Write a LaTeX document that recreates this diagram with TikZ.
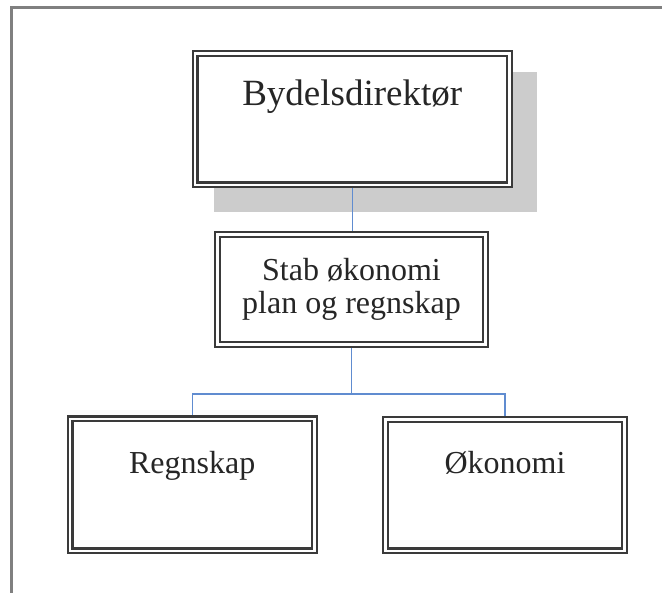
\documentclass[tikz,border=0pt]{standalone}
\usepackage{fontspec}
\setmainfont{Liberation Serif}
\usetikzlibrary{positioning,backgrounds}
\definecolor{framegray}{RGB}{128,128,128}
\definecolor{boxline}{RGB}{58,58,58}
\definecolor{shadowgray}{RGB}{204,204,204}
\definecolor{linkblue}{RGB}{96,140,208}

\begin{document}
\begin{tikzpicture}[x=1pt, y=-1pt,
  orgbox/.style={draw=boxline, line width=2.2pt, double=white, double distance=2.6pt,
    fill=white, inner sep=0pt},
  boxtext/.style={font=\fontsize{32}{33}\selectfont, text=black!85, align=center},
  toptext/.style={font=\fontsize{37}{40}\selectfont, text=black!85},
  link/.style={draw=linkblue, line width=1.4pt}]
  \useasboundingbox (0,0) rectangle (662,593);
  % frame
  \draw[framegray, line width=3pt] (11,593) -- (11,7.5) -- (662,7.5);

  % boxes
  \node[orgbox, minimum width=314.5pt, minimum height=131.5pt] (dir) at (352.25,119.25) {};
  \node[toptext, anchor=base] (dirlbl) at ([yshift=-53.5pt]dir.north) {Bydelsdirektør};

  \node[orgbox, boxtext, minimum width=268pt, minimum height=110pt] (stab) at (351.5,289.5)
    {Stab økonomi\\plan og regnskap};

  \node[orgbox, minimum width=244.5pt, minimum height=132pt] (regn) at (192.25,485) {};
  \node[boxtext, anchor=base] (regnlbl) at ([yshift=-56pt]regn.north) {Regnskap};

  \node[orgbox, minimum width=239pt, minimum height=131.5pt] (okon) at (505,485.25) {};
  \node[boxtext, anchor=base] (okonlbl) at ([yshift=-55.5pt]okon.north) {Økonomi};

  % shadow and links
  \begin{scope}[on background layer]
    \fill[shadowgray] ([shift={(20,19.5)}]dir.north west) rectangle ([shift={(26.5,26)}]dir.south east);
    \coordinate (fork) at ([yshift=-48.5pt]stab.south);
    \draw[link] (dir.south) -- (dir.south |- stab.north);
    \draw[link] (stab.south) -- (fork);
    \draw[link] (fork) -| (regn.north);
    \draw[link] (fork) -| (okon.north);
  \end{scope}
\end{tikzpicture}
\end{document}
